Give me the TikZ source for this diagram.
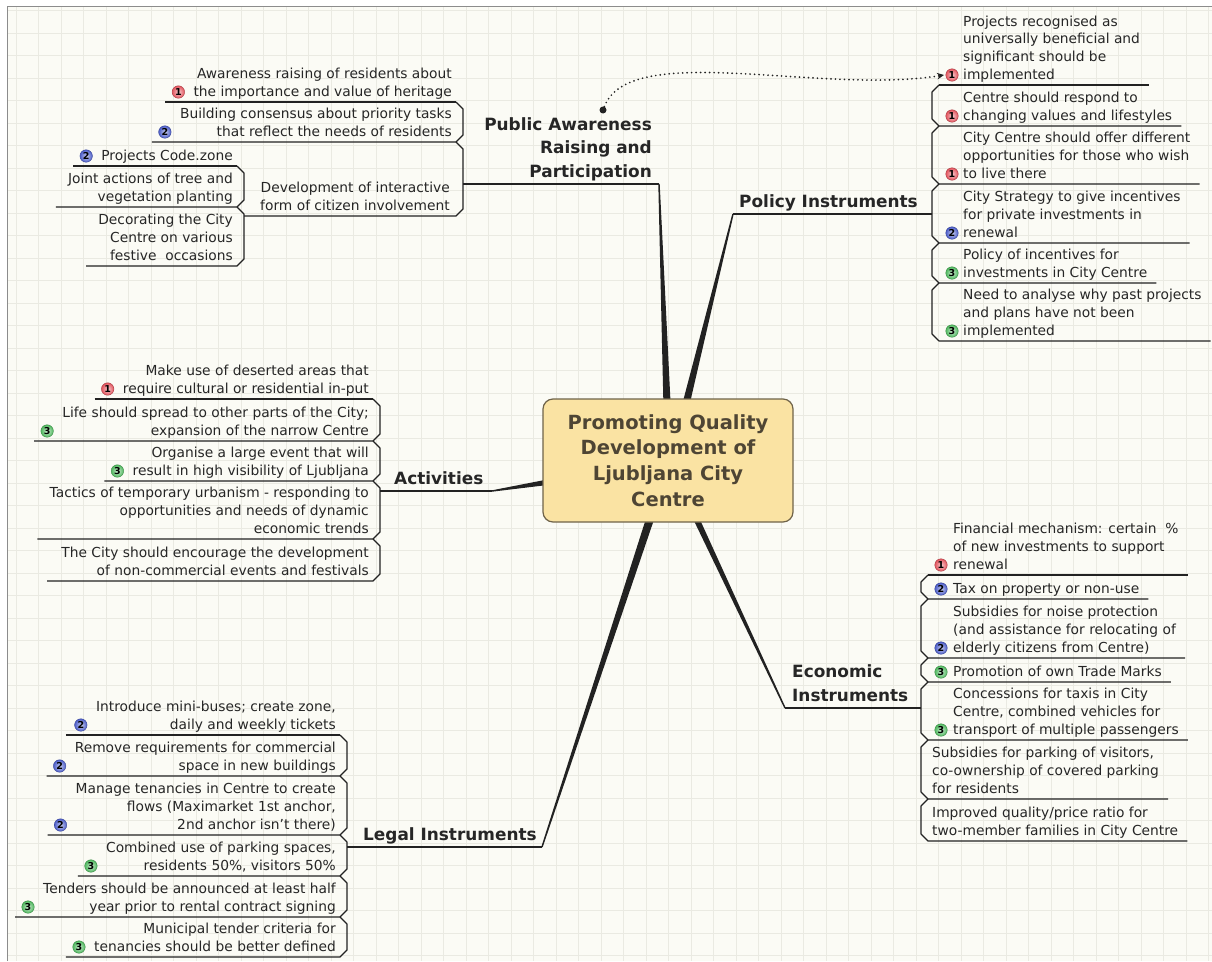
\documentclass[tikz,border=0pt]{standalone}
\usepackage{fontspec}
\setmainfont{DejaVu Sans}
\usetikzlibrary{calc,arrows.meta}
\definecolor{bgc}{HTML}{FBFBF5}
\definecolor{gridc}{HTML}{EAEAE2}
\definecolor{framec}{HTML}{8C8C8C}
\definecolor{txtc}{HTML}{262626}
\definecolor{linec}{HTML}{222222}
\definecolor{cfill}{HTML}{FAE3A3}
\definecolor{cdraw}{HTML}{6F6349}
\definecolor{ctext}{HTML}{4E4534}
\definecolor{ballr}{HTML}{E2535C}
\definecolor{ballb}{HTML}{4B5CC8}
\definecolor{ballg}{HTML}{4FB85E}
\newcommand{\subfnt}{\fontsize{13.8}{17.8}\selectfont}
\newcommand{\topfnt}{\fontsize{16.9}{23.5}\selectfont\bfseries}
\newcommand{\rtab}[1]{\begin{tabular}[b]{@{}r@{}}#1\end{tabular}}
\newcommand{\ltab}[1]{\begin{tabular}[b]{@{}l@{}}#1\end{tabular}}
\tikzset{
  subtxt/.style={font=\subfnt, text=txtc, inner sep=0pt},
  toptxt/.style={font=\topfnt, text=txtc, inner sep=0pt},
  mline/.style={draw=linec, line width=1.2pt, line join=round},
  ico/.style={circle, inner sep=0pt, minimum size=12.5pt, shading=radial,
    inner color=#1!30!white, outer color=#1, draw=#1!75!black, line width=0.4pt,
    text=black, font=\fontsize{9.5}{9.5}\selectfont\bfseries},
  central/.style={draw=cdraw, fill=cfill, rounded corners=10pt, line width=1.2pt,
    minimum width=250pt, minimum height=123pt, align=center,
    font=\fontsize{19.5}{25.7}\selectfont\bfseries, text=ctext},
}
% left-side items (text right aligned, spine to the right)
\newcommand{\LFirst}[5]{%
  \node[subtxt,anchor=base east] (#1) at ({#2-11},{#3-5.5}) {\rtab{#4}};
  \draw[mline] ($(#1.base west)+(-#5,5.5)$) -- ({#2-7},#3);
}
\newcommand{\LItem}[6]{%
  \node[subtxt,anchor=base east] (#1) at ({#2-11},{#4-5.5}) {\rtab{#5}};
  \draw[mline] ($(#1.base west)+(-#6,5.5)$) -- ({#2-7},#4) -- (#2,{#4-7}) -- (#2,{#3+7}) -- ({#2-7},#3);
}
\newcommand{\LIcon}[3]{%
  \node[ico=#2] (#1i) at ($(#1.base west)+(-15,-4.5)$) {#3};
}
% right-side items (text left aligned, spine to the left)
\newcommand{\RFirst}[5]{%
  \node[subtxt,anchor=base west] (#1) at ({#2+#5},{#3-5.5}) {\ltab{#4}};
  \draw[mline] ({#2+7},#3) -- ($(#1.base east)+(9,5.5)$);
}
\newcommand{\RItem}[6]{%
  \node[subtxt,anchor=base west] (#1) at ({#2+#6},{#4-5.5}) {\ltab{#5}};
  \draw[mline] ({#2+7},#3) -- (#2,{#3+7}) -- (#2,{#4-7}) -- ({#2+7},#4) -- ($(#1.base east)+(9,5.5)$);
}
\newcommand{\RIcon}[5]{%
  \node[ico=#4] (#1i) at ({#2+20},{#3-10}) {#5};
}
\newcommand{\Taper}[3]{%
  \fill[linec] ($(#1)!0.7pt!90:(#2)$) -- ($(#1)!0.7pt!-90:(#2)$) -- ($(#2)!#3!90:(#1)$) -- ($(#2)!#3!-90:(#1)$) -- cycle;
}
\begin{document}
\begin{tikzpicture}[x=1pt,y=-1pt]
\useasboundingbox (0,0) rectangle (1212,961);
\fill[white] (0,0) rectangle (1212,961);
\fill[bgc] (7,6) rectangle (1212,961);
\begin{scope}
  \clip (7,6) rectangle (1212,961);
  \foreach \gx in {0,...,53} \draw[gridc, line width=0.7pt] ({16+22.5*\gx},0) -- ({16+22.5*\gx},961);
  \foreach \gy in {0,...,42} \draw[gridc, line width=0.7pt] (0,{10.5+22.5*\gy}) -- (1212,{10.5+22.5*\gy});
\end{scope}
\draw[framec, line width=1pt] (7,961) -- (7,6) -- (1212,6);

% branch coordinates
\coordinate (paS) at (463,184); \coordinate (paE) at (659,184); \coordinate (paB) at (667,404);
\coordinate (poS) at (932,214); \coordinate (poE) at (733,214); \coordinate (poB) at (686,404);
\coordinate (acS) at (380,491); \coordinate (acE) at (492,491); \coordinate (acB) at (549,482);
\coordinate (leS) at (347,847); \coordinate (leE) at (542,847); \coordinate (leB) at (651,516);
\coordinate (ecS) at (921,708); \coordinate (ecE) at (785,708); \coordinate (ecB) at (695,516);

\Taper{paE}{paB}{3.6pt}
\Taper{poE}{poB}{3.6pt}
\Taper{acE}{acB}{2.8pt}
\Taper{leE}{leB}{4pt}
\Taper{ecE}{ecB}{3pt}

\node[central] (cen) at (668,460.5) {Promoting Quality\\Development of\\Ljubljana City\\Centre};

% main topics
\draw[mline] (paS) -- (paE);
\draw[mline] (poE) -- (poS);
\draw[mline] (acS) -- (acE);
\draw[mline] (leS) -- (leE);
\draw[mline] (ecE) -- (ecS);
\node[toptxt, anchor=base east] (paT) at (652,177) {\rtab{Public Awareness\\Raising and\\Participation}};
\node[toptxt, anchor=base west] (poT) at (739,207) {Policy Instruments};
\node[toptxt, anchor=base west] (acT) at (394,484.5) {Activities};
\node[toptxt, anchor=base west] (leT) at (363,840.5) {Legal Instruments};
\node[toptxt, anchor=base west] (ecT) at (792,701) {\ltab{Economic\\Instruments}};

% Public Awareness
\LFirst{pa1}{463}{102}{Awareness raising of residents about\\the importance and value of heritage}{28}
\LIcon{pa1}{ballr}{1}
\LItem{pa2}{463}{102}{142}{Building consensus about priority tasks\\that reflect the needs of residents}{28}
\LIcon{pa2}{ballb}{2}
\coordinate (pa3S) at (244,216);
\node[subtxt,anchor=base east] (pa3) at (450,210.5) {\rtab{Development of interactive\\form of citizen involvement}};
\draw[mline] (pa3S) -- (456,216) -- (463,209) -- (463,149) -- (456,142);
\LFirst{pa3a}{244}{166}{Projects Code.zone}{28}
\LIcon{pa3a}{ballb}{2}
\LItem{pa3b}{244}{166}{207}{Joint actions of tree and\\vegetation planting}{12}
\LItem{pa3c}{244}{207}{266}{Decorating the City\\Centre on various\\festive\ \ occasions}{12}

% Policy Instruments
\RFirst{po1}{932}{85}{Projects recognised as\\universally beneficial and\\significant should be\\implemented}{31}
\RIcon{po1}{932}{85}{ballr}{1}
\RItem{po2}{932}{85}{126}{Centre should respond to\\changing values and lifestyles}{31}
\RIcon{po2}{932}{126}{ballr}{1}
\RItem{po3}{932}{126}{184}{City Centre should offer different\\opportunities for those who wish\\to live there}{31}
\RIcon{po3}{932}{184}{ballr}{1}
\RItem{po4}{932}{184}{243}{City Strategy to give incentives\\for private investments in\\renewal}{31}
\RIcon{po4}{932}{243}{ballb}{2}
\RItem{po5}{932}{243}{283}{Policy of incentives for\\investments in City Centre}{31}
\RIcon{po5}{932}{283}{ballg}{3}
\RItem{po6}{932}{283}{341}{Need to analyse why past projects\\and plans have not been\\implemented}{31}
\RIcon{po6}{932}{341}{ballg}{3}

% Activities
\LFirst{ac1}{380}{399}{Make use of deserted areas that\\require cultural or residential in-put}{28}
\LIcon{ac1}{ballr}{1}
\LItem{ac2}{380}{399}{441}{Life should spread to other parts of the City;\\expansion of the narrow Centre}{28}
\LIcon{ac2}{ballg}{3}
\LItem{ac3}{380}{441}{481}{Organise a large event that will\\result in high visibility of Ljubljana}{28}
\LIcon{ac3}{ballg}{3}
\LItem{ac4}{380}{481}{539}{Tactics of temporary urbanism - responding to\\opportunities and needs of dynamic\\economic trends}{12}
\LItem{ac5}{380}{539}{581}{The City should encourage the development\\of non-commercial events and festivals}{14}

% Legal Instruments
\LFirst{le1}{347}{735}{Introduce mini-buses; create zone,\\daily and weekly tickets}{30}
\LIcon{le1}{ballb}{2}
\LItem{le2}{347}{735}{776}{Remove requirements for commercial\\space in new buildings}{28}
\LIcon{le2}{ballb}{2}
\LItem{le3}{347}{776}{835}{Manage tenancies in Centre to create\\flows (Maximarket 1st anchor,\\2nd anchor isn't there)}{28}
\LIcon{le3}{ballb}{2}
\LItem{le4}{347}{835}{876}{Combined use of parking spaces,\\residents 50\%, visitors 50\%}{28}
\LIcon{le4}{ballg}{3}
\LItem{le5}{347}{876}{917}{Tenders should be announced at least half\\year prior to rental contract signing}{28}
\LIcon{le5}{ballg}{3}
\LItem{le6}{347}{917}{957}{Municipal tender criteria for\\tenancies should be better defined}{28}
\LIcon{le6}{ballg}{3}

% Economic Instruments
\RFirst{ec1}{921}{575}{Financial mechanism: certain\ \ \%\\of new investments to support\\renewal}{32}
\RIcon{ec1}{921}{575}{ballr}{1}
\RItem{ec2}{921}{575}{599}{Tax on property or non-use}{32}
\RIcon{ec2}{921}{599}{ballb}{2}
\RItem{ec3}{921}{599}{658}{Subsidies for noise protection\\(and assistance for relocating of\\elderly citizens from Centre)}{32}
\RIcon{ec3}{921}{658}{ballb}{2}
\RItem{ec4}{921}{658}{682}{Promotion of own Trade Marks}{32}
\RIcon{ec4}{921}{682}{ballg}{3}
\RItem{ec5}{921}{682}{740}{Concessions for taxis in City\\Centre, combined vehicles for\\transport of multiple passengers}{32}
\RIcon{ec5}{921}{740}{ballg}{3}
\RItem{ec6}{921}{740}{799}{Subsidies for parking of visitors,\\co-ownership of covered parking\\for residents}{11}
\RItem{ec7}{921}{799}{841}{Improved quality/price ratio for\\two-member families in City Centre}{11}

% dotted relationship arrow
\node[circle, fill=linec, inner sep=0pt, minimum size=7pt] (dot) at (603,110) {};
\draw[linec, line width=1.9pt, line cap=round, dash pattern=on 0pt off 4.5pt,
  -{Stealth[length=7pt,width=6.5pt]}] (dot) .. controls (630,40) and (820,95) .. ([xshift=-1.5pt]po1i.west);
\end{tikzpicture}
\end{document}
